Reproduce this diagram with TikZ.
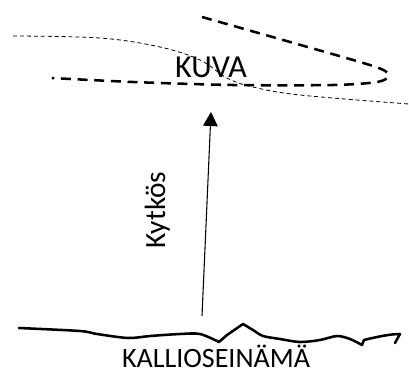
\documentclass[tikz,border=0pt]{standalone}
\usepackage{fontspec}
\setmainfont{Carlito}
\usetikzlibrary{arrows.meta}
\tikzset{
  thickdash/.style={line width=1.9pt, dash pattern=on 7.5pt off 5pt},
  thindash/.style={line width=0.6pt, dash pattern=on 3pt off 2.2pt},
  rock/.style={line width=1.9pt, line join=round, line cap=round},
  lbl/.style={inner sep=0pt},
  conn/.style={line width=0.8pt, -{Triangle[width=11pt,length=10.5pt]}}
}
\begin{document}
\begin{tikzpicture}[x=0.75pt,y=-0.75pt]
\useasboundingbox (0,0) rectangle (409,374);
% thin dashed S-curve
\draw[thindash] plot[smooth, tension=0.6] coordinates {(13,36) (100,38) (160,47) (200,60) (227,78) (253,87) (300,95) (409,104)};
% thick dashed loop
\draw[thickdash] plot[smooth, tension=0.5] coordinates {(202,17) (290,42) (376,67) (388,76) (377,82) (333,85) (233,85) (133,82) (52,78)};
% labels
\node[lbl, font=\fontsize{24}{28}\selectfont, anchor=base] (kuva) at (211,78) {KUVA};
\node[lbl, font=\fontsize{21}{25}\selectfont, anchor=base, text depth=0pt] (wall) at (216,367) {KALLIOSEINÄMÄ};
% rock wall line
\draw[rock] plot[smooth, tension=0.5] coordinates {(19,328) (80,331) (97,334) (128,338) (150,336) (180,334) (200,334) (219,342)}
  -- (227,335) -- (243,324)
  plot[smooth, tension=0.5] coordinates {(243,324) (253,330) (263,336) (280,339) (300,342) (320,340) (337,336) (350,339) (362,345)}
  -- (364,340) .. controls (380,336) and (392,334) .. (400,334) -- (395,343);
% arrow
\coordinate (base) at (202,316);
\coordinate (img) at (211,112);
\draw[conn] (base) -- (img);
\node[lbl, font=\fontsize{22}{26}\selectfont, rotate=90, anchor=base] (kyt) at (165,210) {Kytkös};
\end{tikzpicture}
\end{document}
